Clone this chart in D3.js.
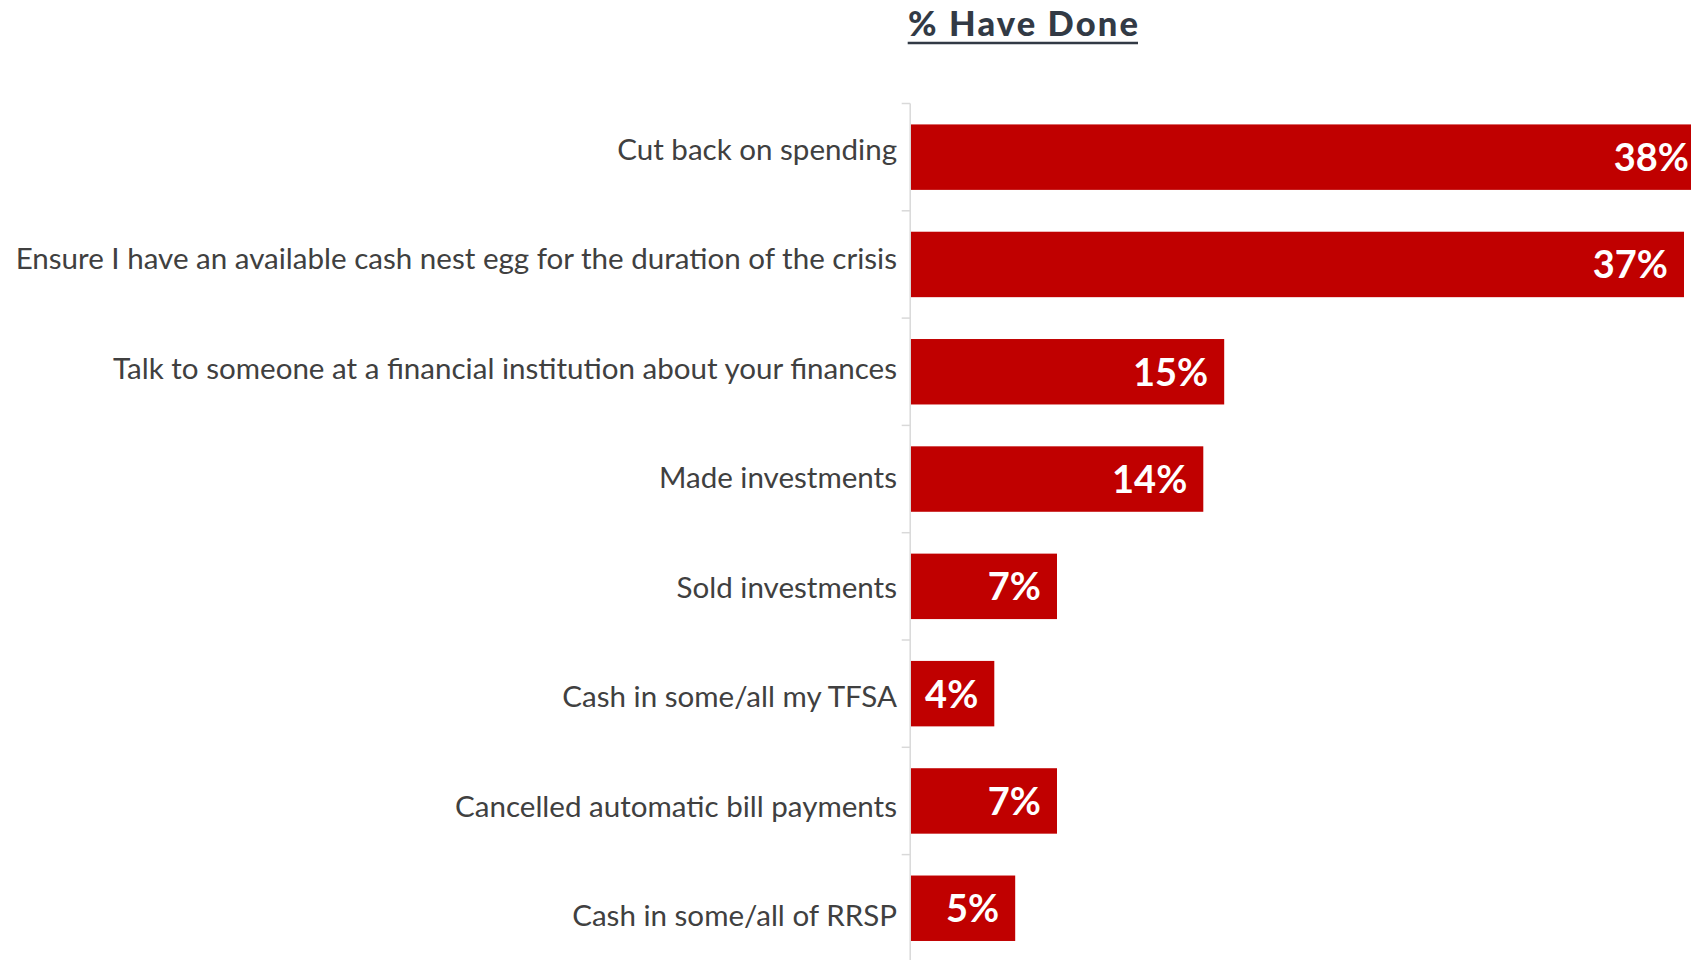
<!DOCTYPE html>
<html>
<head>
<meta charset="utf-8">
<script src="https://cdn.jsdelivr.net/npm/d3@7"></script>
<style>
  html, body { margin: 0; padding: 0; background: #ffffff; overflow: hidden; }
  svg { display: block; }
</style>
</head>
<body>
<svg id="chart" width="1691" height="960"></svg>
<script>
// Survey responses: share of respondents who have taken each action
const categories = [
  "Cut back on spending",
  "Ensure I have an available cash nest egg for the duration of the crisis",
  "Talk to someone at a financial institution about your finances",
  "Made investments",
  "Sold investments",
  "Cash in some/all my TFSA",
  "Cancelled automatic bill payments",
  "Cash in some/all of RRSP"
];
const values = [0.38, 0.37, 0.15, 0.14, 0.07, 0.04, 0.07, 0.05];
const valueLabels = ["38%", "37%", "15%", "14%", "7%", "4%", "7%", "5%"];
const chartTitle = "% Have Done";

const W = 1691, H = 960;
const axisX = 910.7;
const svg = d3.select("#chart");

const labelFont = "Lato, 'Open Sans', sans-serif";

// Horizontal scale: percent share -> pixels
const x = d3.scaleLinear().domain([0, 0.37]).range([axisX, 1684]);

// Vertical band scale for the bars
const y = d3.scaleBand()
  .domain(categories)
  .range([103.5, 961.9])
  .paddingInner(0.39)
  .paddingOuter(0.195);

// Baselines of the category labels
const yLabel = d3.scalePoint()
  .domain(categories)
  .range([160, 926]);

// Bars
svg.append("g")
  .selectAll("rect")
  .data(categories)
  .join("rect")
  .attr("x", x(0))
  .attr("y", d => y(d))
  .attr("width", (d, i) => x(values[i]) - x(0))
  .attr("height", y.bandwidth())
  .attr("fill", "#c00000");

// Category axis: grey line with short ticks at band boundaries
const axisG = svg.append("g");
axisG.append("line")
  .attr("x1", axisX - 0.5).attr("x2", axisX - 0.5)
  .attr("y1", y.range()[0]).attr("y2", y.range()[1])
  .attr("stroke", "#d9d9d9").attr("stroke-width", 1.5);
const boundaries = d3.range(categories.length + 1).map(i => y.range()[0] + i * y.step());
axisG.selectAll("line.tick")
  .data(boundaries)
  .join("line")
  .attr("class", "tick")
  .attr("x1", axisX - 9).attr("x2", axisX - 0.5)
  .attr("y1", d => d).attr("y2", d => d)
  .attr("stroke", "#d9d9d9").attr("stroke-width", 1.5);

// Category labels, sized so the longest one fills the space left of the axis
const labels = svg.append("g")
  .selectAll("text")
  .data(categories)
  .join("text")
  .attr("x", 897)
  .attr("y", d => yLabel(d))
  .attr("text-anchor", "end")
  .attr("font-family", labelFont)
  .attr("font-size", 100)
  .attr("fill", "#404040")
  .text(d => d);
let longest = 0;
labels.each(function () { longest = Math.max(longest, this.getComputedTextLength()); });
labels.attr("font-size", 100 * 882 / longest);

// Value labels inside the bar ends
svg.append("g")
  .selectAll("text")
  .data(categories)
  .join("text")
  .attr("x", (d, i) => Math.min(x(values[i]), W + 16) - 16)
  .attr("y", d => y(d) + y.bandwidth() / 2 + 14)
  .attr("text-anchor", "end")
  .attr("font-family", labelFont)
  .attr("font-weight", "bold")
  .attr("font-size", 38)
  .attr("fill", "#ffffff")
  .text((d, i) => valueLabels[i]);

// Underlined title
svg.append("text")
  .attr("x", 908)
  .attr("y", 36)
  .attr("font-family", labelFont)
  .attr("font-weight", 900)
  .attr("font-size", 34.5)
  .attr("textLength", 230)
  .attr("lengthAdjust", "spacing")
  .attr("fill", "#323a45")
  .text(chartTitle);
svg.append("line")
  .attr("x1", 907.7).attr("x2", 1138)
  .attr("y1", 43).attr("y2", 43)
  .attr("stroke", "#323a45").attr("stroke-width", 2.5);
</script>
</body>
</html>
